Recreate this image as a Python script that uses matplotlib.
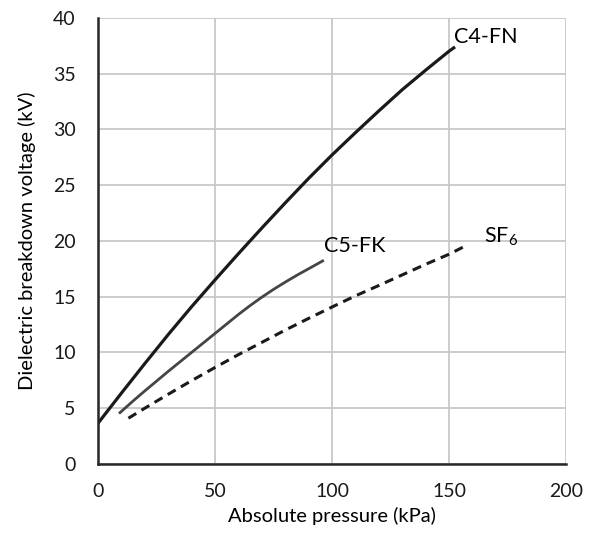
import matplotlib
matplotlib.use("Agg")
import matplotlib.pyplot as plt

plt.rcParams['font.family'] = ['Lato', 'DejaVu Sans']
plt.rcParams['mathtext.default'] = 'regular'

# C4-FN breakdown voltage
c4_p = [0, 10, 20, 30, 40, 50, 60, 70, 80, 90, 100, 110, 120, 130, 140, 150, 152]
c4_v = [3.65, 6.35, 9.0, 11.6, 14.1, 16.5, 18.85, 21.15, 23.4, 25.6, 27.7, 29.7, 31.65, 33.55, 35.3, 37.0, 37.3]

# C5-FK breakdown voltage
c5_p = [9.4, 15, 20, 30, 40, 50, 60, 65, 70, 75, 80, 85, 90, 96]
c5_v = [4.6, 5.65, 6.55, 8.3, 10.0, 11.7, 13.4, 14.2, 14.95, 15.65, 16.3, 16.92, 17.5, 18.2]

# SF6 breakdown voltage
sf6_p = [13, 20, 30, 40, 50, 60, 70, 80, 90, 100, 110, 120, 130, 140, 150, 158]
sf6_v = [4.1, 5.0, 6.25, 7.47, 8.65, 9.8, 10.9, 12.0, 13.05, 14.07, 15.07, 16.0, 16.95, 17.9, 18.8, 19.65]

fig = plt.figure(figsize=(5.94, 5.37), dpi=100)
ax = fig.add_axes([0.165, 0.136, 0.788, 0.831])

ax.plot(c4_p, c4_v, color='#1a1a1a', lw=2.3)
ax.plot(c5_p, c5_v, color='#454545', lw=2.0)
ax.plot(sf6_p, sf6_v, color='#1a1a1a', lw=2.2, ls=(0, (3, 2)))

ax.text(152, 38.3, 'C4-FN', fontsize=15.5, va='center', ha='left')
ax.text(96.6, 19.5, 'C5-FK', fontsize=15.5, va='center', ha='left')
ax.text(165, 20.4, r'SF$_6$', fontsize=15.5, va='center', ha='left')

ax.set_xlim(0, 200)
ax.set_ylim(0, 40)
ax.set_xticks(range(0, 201, 50))
ax.set_yticks(range(0, 41, 5))
ax.xaxis.grid(True, color='#c8c8c8', lw=1.3)
ax.yaxis.grid(True, color='#c8c8c8', lw=1.3)
ax.set_axisbelow(True)
for s in ['top', 'right']:
    ax.spines[s].set_visible(False)
for s in ['left', 'bottom']:
    ax.spines[s].set_color('#262626')
    ax.spines[s].set_linewidth(1.8)
ax.tick_params(length=0, labelsize=14, colors='#1a1a1a')
ax.tick_params(axis='x', pad=14)
ax.tick_params(axis='y', pad=16)
ax.set_xlabel('Absolute pressure (kPa)', fontsize=14.5, labelpad=5)
ax.set_ylabel('Dielectric breakdown voltage (kV)', fontsize=14.5, labelpad=12)

fig.savefig('out.png', dpi=100)
